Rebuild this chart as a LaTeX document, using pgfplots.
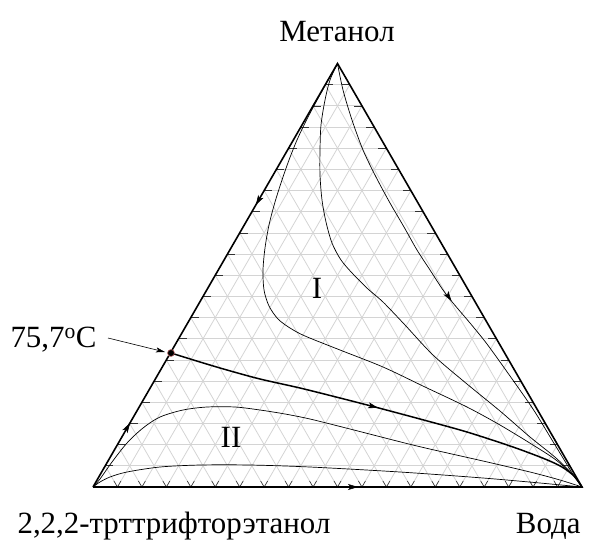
\documentclass[border=0pt]{standalone}
\usepackage{pgfplots}
\pgfplotsset{compat=1.18}
\usepackage{fontspec}
\setmainfont{Liberation Serif}
\usetikzlibrary{arrows.meta}

\definecolor{gridc}{RGB}{212,212,212}

\begin{document}
\begin{tikzpicture}
\begin{axis}[
  width=597bp, height=542bp, scale only axis,
  xmin=0, xmax=597, ymin=0, ymax=542, y dir=reverse,
  hide axis, clip=false,
  every axis plot/.append style={no marks},
  font=\fontsize{31}{36}\selectfont,
  flow/.style={black, line width=0.6pt, -{Stealth[length=10pt,width=6pt,inset=2.5pt]}},
]
% frame of the picture
\addplot[draw=none] coordinates {(0,0) (597,542)};

% 5 % composition grid
\pgfplotsinvokeforeach{1,...,19}{
  \draw[gridc, line width=0.8pt] ({93+12.225*#1},{487-21.175*#1}) -- ({582-12.225*#1},{487-21.175*#1});
  \draw[gridc, line width=0.8pt] ({93+24.45*#1},487) -- ({93+24.45*#1+12.225*(20-#1)},{487-21.175*(20-#1)});
  \draw[gridc, line width=0.8pt] ({93+24.45*#1},487) -- ({93+12.225*#1},{487-21.175*#1});
}
% ticks on the three sides
\pgfplotsinvokeforeach{1,...,19}{
  \draw[black!80, line width=0.7pt] ({93+12.225*#1},{487-21.175*#1}) -- ({101+12.225*#1},{487-21.175*#1});
  \draw[black!80, line width=0.7pt] ({582-12.225*#1},{487-21.175*#1}) -- ({574-12.225*#1},{487-21.175*#1});
  \draw[black!80, line width=0.6pt] ({89.5+24.45*#1},481) -- ({93+24.45*#1},487) -- ({96.5+24.45*#1},481);
}

% residue curves, region I
\addplot[black, line width=0.7pt, smooth] coordinates {
  (337.5,63.5) (327,82) (316,102) (306,121) (297,140) (289,160) (282,180)
  (275,202) (269,225) (265,248) (263,270) (264,290) (269,306) (278,319)
  (290,328) (305,336) (340,350) (383,367) (425,387) (467,407) (500,425)
  (533,445) (556,460) (574,476) (582,487)};
\addplot[black, line width=0.7pt, smooth] coordinates {
  (337.5,63.5) (330,80) (325,100) (321,125) (320,150) (320,175) (322,200)
  (326,222) (332,243) (341,260) (353,274) (368,289) (383,302) (405,325)
  (433,355) (467,384) (500,411) (530,437) (556,458) (574,476) (582,487)};
\addplot[black, line width=0.7pt, smooth] coordinates {
  (337.5,63.5) (343,90) (352,120) (363,150) (376,177) (390,203) (404,227)
  (417,250) (430,270) (443,290) (453,303) (470,323) (487,344) (510,376)
  (533,409) (552,440) (563,458) (574,476) (582,487)};

% separatrix from the azeotrope to water
\addplot[black, line width=1.5pt, smooth] coordinates {
  (171,353) (200,362) (227,370) (260,379) (300,388) (340,398) (375,407)
  (420,419) (467,432) (513,447) (545,459) (562,467) (574,476) (582,487)};

% residue curves, region II
\addplot[black, line width=0.7pt, smooth] coordinates {
  (93,487) (100,479) (112,462) (127,443) (143,428) (160,417) (183,410)
  (207,407) (235,407) (260,410) (285,414) (310,419) (350,429) (417,446)
  (483,461) (530,472) (560,480) (582,487)};
\addplot[black, line width=0.7pt, smooth] coordinates {
  (93,487) (100,482) (110,477) (127,472) (160,467) (200,465) (250,465)
  (310,467) (400,472) (483,478) (540,483) (582,487)};

% sides of the triangle
\addplot[black, line width=1.6pt] coordinates {(93,487) (337.5,63.5) (582,487) (93,487)};

% direction arrows
\addplot[flow] coordinates {(259.3,199) (255.8,205)};
\addplot[flow] coordinates {(125.3,431) (130,423)};
\addplot[flow] coordinates {(350,487) (358,487)};
\addplot[flow] coordinates {(370,405.7) (378,407.8)};
\addplot[flow] coordinates {(447,294.5) (451.5,301)};

% azeotrope
\addplot[only marks, mark=o, mark size=3.5pt, draw=gray!60!red!80, line width=0.6pt] coordinates {(171,353)};
\draw[black, line width=0.6pt, -{Stealth[length=9pt,width=5pt,inset=2pt]}] (108,338) -- (165,352);
\node[anchor=base east] at (100,347) {75,7\textsuperscript{o}C};

% labels
\node[anchor=base] at (337,41) {Метанол};
\node[anchor=base] at (174,533) {2,2,2-трттрифторэтанол};
\node[anchor=base east] at (584,533) {Вода};
\node[anchor=base] at (317,298) {I};
\node[anchor=base] at (231,447) {II};
\end{axis}
\end{tikzpicture}
\end{document}
